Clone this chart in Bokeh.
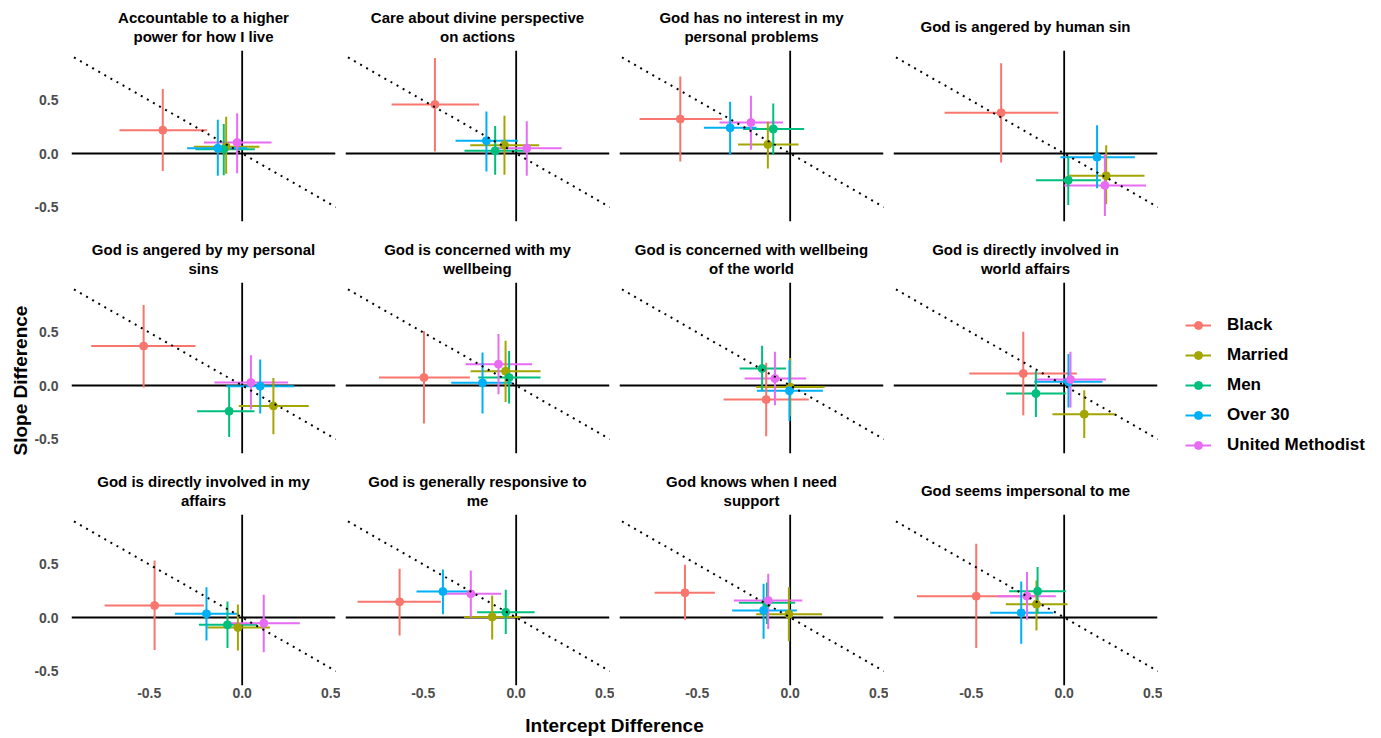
import pandas as pd
from bokeh.plotting import figure
from bokeh.models import (ColumnDataSource, Span, Slope, Label, Legend, LegendItem,
                          FixedTicker, Range1d, Title)
from bokeh.layouts import row, column
from bokeh.embed import file_html
from bokeh.resources import INLINE

# ---------------- data ----------------
titles = [
    "Accountable to a higher\npower for how I live",
    "Care about divine perspective\non actions",
    "God has no interest in my\npersonal problems",
    "God is angered by human sin",
    "God is angered by my personal\nsins",
    "God is concerned with my\nwellbeing",
    "God is concerned with wellbeing\nof the world",
    "God is directly involved in\nworld affairs",
    "God is directly involved in my\naffairs",
    "God is generally responsive to\nme",
    "God knows when I need\nsupport",
    "God seems impersonal to me",
]
groups = ["Black", "Married", "Men", "Over 30", "United Methodist"]
colors = ["#F8766D", "#A3A500", "#00BF7D", "#00B0F6", "#E76BF3"]

# intercept difference (x) with interval, slope difference (y) with interval; one value per panel
black_int    = [-0.427, -0.437, -0.591, -0.339, -0.530, -0.496, -0.129, -0.220, -0.471, -0.627, -0.566, -0.473]
black_int_lo = [-0.660, -0.670, -0.810, -0.643, -0.812, -0.738, -0.358, -0.510, -0.740, -0.853, -0.729, -0.792]
black_int_hi = [-0.190, -0.200, -0.367, -0.032, -0.251, -0.249, 0.100, 0.068, -0.206, -0.405, -0.405, -0.154]
black_slp    = [0.220, 0.462, 0.324, 0.384, 0.371, 0.075, -0.132, 0.113, 0.113, 0.148, 0.233, 0.201]
black_slp_lo = [-0.164, 0.019, -0.075, -0.085, -0.019, -0.358, -0.478, -0.280, -0.305, -0.170, -0.022, -0.286]
black_slp_hi = [0.607, 0.900, 0.726, 0.849, 0.758, 0.513, 0.214, 0.506, 0.538, 0.459, 0.497, 0.695]

married_int    = [-0.086, -0.063, -0.120, 0.226, 0.168, -0.057, 0.000, 0.108, -0.023, -0.129, -0.007, -0.149]
married_int_lo = [-0.260, -0.247, -0.280, 0.027, -0.018, -0.245, -0.183, -0.063, -0.188, -0.281, -0.183, -0.314]
married_int_hi = [0.093, 0.124, 0.045, 0.432, 0.358, 0.131, 0.185, 0.274, 0.149, 0.023, 0.172, 0.018]
married_slp    = [0.063, 0.079, 0.085, -0.210, -0.192, 0.135, -0.015, -0.270, -0.094, 0.006, 0.031, 0.126]
married_slp_lo = [-0.190, -0.200, -0.140, -0.478, -0.459, -0.154, -0.290, -0.494, -0.311, -0.208, -0.223, -0.123]
married_slp_hi = [0.346, 0.355, 0.300, 0.079, 0.072, 0.421, 0.260, -0.044, 0.123, 0.208, 0.286, 0.349]

men_int    = [-0.099, -0.113, -0.091, 0.022, -0.070, -0.038, -0.151, -0.152, -0.079, -0.056, -0.125, -0.143]
men_int_lo = [-0.251, -0.278, -0.254, -0.152, -0.242, -0.204, -0.272, -0.312, -0.233, -0.210, -0.276, -0.296]
men_int_hi = [0.068, 0.050, 0.075, 0.197, 0.066, 0.131, -0.022, 0.009, 0.081, 0.099, 0.027, 0.009]
men_slp    = [0.041, 0.025, 0.230, -0.252, -0.242, 0.075, 0.160, -0.075, -0.069, 0.050, 0.138, 0.248]
men_slp_lo = [-0.204, -0.200, -0.013, -0.484, -0.484, -0.170, -0.044, -0.296, -0.286, -0.154, -0.060, 0.035]
men_slp_hi = [0.277, 0.260, 0.470, -0.022, -0.013, 0.324, 0.374, 0.138, 0.151, 0.261, 0.330, 0.475]

over30_int    = [-0.131, -0.160, -0.323, 0.177, 0.097, -0.181, -0.004, 0.023, -0.192, -0.394, -0.143, -0.231]
over30_int_lo = [-0.296, -0.326, -0.464, -0.020, -0.086, -0.349, -0.179, -0.161, -0.362, -0.536, -0.312, -0.398]
over30_int_hi = [0.027, 0.009, -0.181, 0.380, 0.280, -0.022, 0.176, 0.206, -0.027, -0.254, 0.036, -0.059]
over30_slp    = [0.050, 0.120, 0.242, -0.035, -0.006, 0.025, -0.050, 0.035, 0.035, 0.245, 0.066, 0.044]
over30_slp_lo = [-0.210, -0.170, -0.013, -0.327, -0.264, -0.264, -0.333, -0.208, -0.217, 0.031, -0.201, -0.248]
over30_slp_hi = [0.318, 0.396, 0.487, 0.267, 0.245, 0.311, 0.239, 0.296, 0.286, 0.453, 0.318, 0.340]

um_int    = [-0.027, 0.057, -0.211, 0.219, 0.047, -0.095, -0.082, 0.034, 0.116, -0.244, -0.118, -0.200]
um_int_lo = [-0.206, -0.111, -0.380, 0.000, -0.149, -0.272, -0.245, -0.158, -0.063, -0.401, -0.303, -0.358]
um_int_hi = [0.158, 0.244, -0.039, 0.440, 0.247, 0.086, 0.086, 0.224, 0.310, -0.081, 0.065, -0.045]
um_slp    = [0.104, 0.050, 0.292, -0.300, 0.028, 0.201, 0.066, 0.057, -0.053, 0.223, 0.160, 0.201]
um_slp_lo = [-0.186, -0.210, 0.035, -0.588, -0.226, -0.082, -0.186, -0.208, -0.327, 0.003, -0.107, -0.022]
um_slp_hi = [0.380, 0.305, 0.544, -0.006, 0.286, 0.484, 0.318, 0.318, 0.214, 0.443, 0.412, 0.428]

tick_values = [-0.5, 0.0, 0.5]
tick_labels = ["-0.5", "0.0", "0.5"]

# ---------------- build long table ----------------
series = {
    "Black": (black_int, black_int_lo, black_int_hi, black_slp, black_slp_lo, black_slp_hi),
    "Married": (married_int, married_int_lo, married_int_hi, married_slp, married_slp_lo, married_slp_hi),
    "Men": (men_int, men_int_lo, men_int_hi, men_slp, men_slp_lo, men_slp_hi),
    "Over 30": (over30_int, over30_int_lo, over30_int_hi, over30_slp, over30_slp_lo, over30_slp_hi),
    "United Methodist": (um_int, um_int_lo, um_int_hi, um_slp, um_slp_lo, um_slp_hi),
}
rows = []
for g, col in zip(groups, colors):
    xi, xl, xh, ys, yl, yh = series[g]
    for k in range(len(titles)):
        rows.append(dict(panel=k, group=g, color=col, x=xi[k], xlo=xl[k], xhi=xh[k],
                         y=ys[k], ylo=yl[k], yhi=yh[k]))
df = pd.DataFrame(rows)

# ---------------- style / layout constants ----------------
FONT = "Liberation Sans"
XR = (-0.918, 0.502)
YR = (-0.64, 0.97)
FW, FH = 264, 171
LEFT0 = 71          # left border of first column
GAP = 10            # gap between panel frames
GRID_W = LEFT0 + 4 * FW + 3 * GAP + 5
STRIP_H = [50, 57, 57]
BOTTOM = [4, 4, 25]


def style_axes(p, r, c):
    for ax in p.axis:
        ax.ticker = FixedTicker(ticks=tick_values)
        ax.major_label_overrides = {v: s for v, s in zip(tick_values, tick_labels)}
        ax.axis_line_color = None
        ax.major_tick_line_color = None
        ax.minor_tick_line_color = None
        ax.major_tick_out = 0
        ax.major_tick_in = 0
        ax.minor_tick_out = 0
        ax.major_label_text_font = FONT
        ax.major_label_text_font_style = "bold"
        ax.major_label_text_font_size = "14px"
        ax.major_label_text_color = "#4D4D4D"
    if r == 2:
        p.xaxis.major_label_standoff = 2
    if c == 0:
        p.yaxis.major_label_standoff = 13


def make_panel(k):
    r, c = divmod(k, 4)
    left = LEFT0 if c == 0 else GAP // 2
    right = GAP // 2
    bottom = BOTTOM[r]
    p = figure(width=left + FW + right, height=FH + bottom,
               x_range=Range1d(*XR), y_range=Range1d(*YR),
               output_backend="svg", toolbar_location=None, title_location=None,
               x_axis_location="below" if r == 2 else None,
               y_axis_location="left" if c == 0 else None,
               min_border_left=left, min_border_right=right,
               min_border_top=0, min_border_bottom=bottom)
    p.outline_line_color = None
    p.grid.visible = False
    p.background_fill_color = "white"
    p.border_fill_color = "white"
    style_axes(p, r, c)

    p.add_layout(Span(location=0, dimension="width", line_color="black",
                      line_width=1.8, level="underlay"))
    p.add_layout(Span(location=0, dimension="height", line_color="black",
                      line_width=1.8, level="underlay"))

    sub = df[df.panel == k]
    src = ColumnDataSource(sub)
    p.segment(x0="xlo", x1="xhi", y0="y", y1="y", source=src,
              line_color="color", line_width=2)
    p.segment(x0="x", x1="x", y0="ylo", y1="yhi", source=src,
              line_color="color", line_width=2)
    p.scatter(x="x", y="y", source=src, color="color", size=8)

    p.add_layout(Slope(gradient=-1, y_intercept=0, line_color="black",
                       line_width=2, line_dash="2 5"))

    if k == 4:
        yt = Title(text="Slope Difference", align="left", offset=-2, standoff=2,
                   text_font=FONT, text_font_style="bold", text_font_size="19px",
                   text_color="black")
        p.add_layout(yt, "left")
    return p


def make_title_strip(r):
    h = STRIP_H[r]
    s = figure(width=GRID_W, height=h, x_range=Range1d(0, GRID_W), y_range=Range1d(0, h),
               output_backend="svg", toolbar_location=None, title_location=None,
               x_axis_location=None, y_axis_location=None, min_border=0)
    s.outline_line_color = None
    s.grid.visible = False
    for c in range(4):
        k = r * 4 + c
        cx = LEFT0 + FW / 2 + c * (FW + GAP)
        lines = titles[k].split("\n")
        ys = [24] if len(lines) == 1 else [33.5, 14]
        for txt, yy in zip(lines, ys):
            s.add_layout(Label(x=cx, y=yy, text=txt, text_align="center",
                               text_baseline="middle", text_font=FONT,
                               text_font_style="bold", text_font_size="15px",
                               text_color="black"))
    return s


panels = [make_panel(k) for k in range(len(titles))]
blocks = []
for r in range(3):
    blocks.append(make_title_strip(r))
    blocks.append(row(*panels[r * 4:(r + 1) * 4]))

# bottom strip carrying the shared x-axis title
xl = figure(width=GRID_W, height=28, x_range=Range1d(0, GRID_W), y_range=Range1d(0, 28),
            output_backend="svg", toolbar_location=None, title_location=None,
            x_axis_location=None, y_axis_location=None, min_border=0)
xl.outline_line_color = None
xl.grid.visible = False
xl.add_layout(Label(x=LEFT0 + 2 * FW + 1.5 * GAP - FW / 2 + FW / 2, y=13,
                    text="Intercept Difference", text_align="center",
                    text_baseline="middle", text_font=FONT, text_font_style="bold",
                    text_font_size="19px", text_color="black"))

# legend strip
lf = figure(width=1381 - GRID_W, height=738, x_range=Range1d(0, 1), y_range=Range1d(0, 1),
            output_backend="svg", toolbar_location=None, title_location=None,
            x_axis_location=None, y_axis_location=None,
            min_border_left=0, min_border_right=0, min_border_top=31, min_border_bottom=0)
lf.outline_line_color = None
lf.grid.visible = False
items = []
for g, col in zip(groups, colors):
    esrc = ColumnDataSource(dict(x=[-5.0, -4.0], y=[-5.0, -5.0]))
    r1 = lf.line("x", "y", source=esrc, line_color=col, line_width=2)
    r2 = lf.scatter("x", "y", source=esrc, color=col, size=8)
    items.append(LegendItem(label=g, renderers=[r1, r2]))
leg = Legend(items=items, location="center_left", margin=23, padding=10,
             glyph_width=26, glyph_height=20, label_standoff=16, spacing=10,
             label_text_font=FONT, label_text_font_style="bold",
             label_text_font_size="17px", label_text_color="black",
             border_line_color=None, background_fill_alpha=0)
lf.add_layout(leg)

layout = row(column(*blocks, xl), lf)

with open("out.html", "w") as f:
    f.write(file_html(layout, INLINE))
